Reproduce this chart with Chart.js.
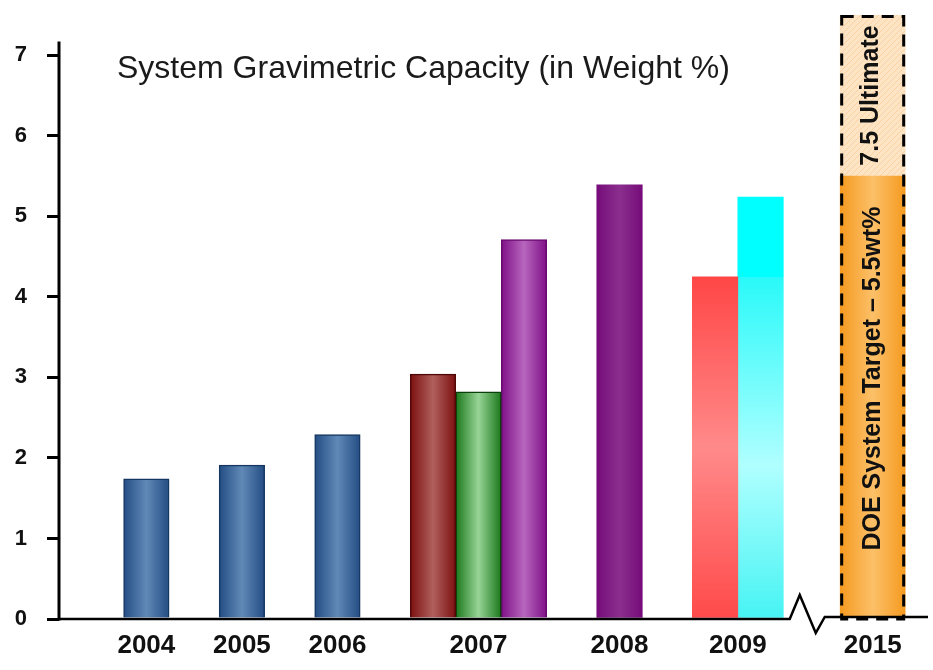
<!DOCTYPE html>
<html>
<head>
<meta charset="utf-8">
<title>System Gravimetric Capacity</title>
<script src="https://cdn.jsdelivr.net/npm/chart.js@4.4.1/dist/chart.umd.min.js"></script>
<style>
  html, body { margin: 0; padding: 0; background: #fff; }
  canvas { display: block; }
</style>
</head>
<body>
<canvas id="capacity-chart" width="933" height="670"></canvas>
<script>
// capacity per year in wt%, one array per bar colour (null = no bar that year)
const years       = ['2004', '2005', '2006', '2007', '2008', '2009', '2015'];
const blueBars    = [1.74, 1.91, 2.29, null, null, null, null];
const darkRedBars = [null, null, null, 3.04, null, null, null];
const greenBars   = [null, null, null, 2.82, null, null, null];
const purpleBars  = [null, null, null, 4.71, 5.39, null, null];
const redBars     = [null, null, null, null, null, 4.25, null];
const cyanBars    = [null, null, null, null, null, 5.24, null];
const doeTarget   = [null, null, null, null, null, null, 5.5];
const doeUltimate = [null, null, null, null, null, null, 7.5];
const yTicks = [0, 1, 2, 3, 4, 5, 6, 7];
const chartTitle = 'System Gravimetric Capacity (in Weight %)';

// layout: x axis runs in "bar slots", one slot = one bar width
const BAR_PX = 45.5;
const TARGET_PX = 65;
const X_MAX = 19.1;
const LEAD = 1.42;
const GAP = 1.1;
const BREAK_GAP = 1.25;   // wider gap where the axis is broken before the target year
const AXIS_TOP = 7.17;

const series = [blueBars, darkRedBars, greenBars, purpleBars, redBars, cyanBars, doeTarget];
const slotWidth = s => (s === doeTarget ? TARGET_PX / BAR_PX : 1);
const targetIdx = doeTarget.findIndex(v => v != null);

// place the bars of each year side by side, years separated by a gap
const barX = series.map(() => []);
const yearCenters = [];
let cursor = LEAD;
years.forEach((yr, i) => {
    const present = series.filter(s => s[i] != null);
    const span = present.reduce((sum, s) => sum + slotWidth(s), 0);
    yearCenters.push(cursor + span / 2);
    let left = cursor;
    present.forEach(s => {
        const w = slotWidth(s);
        barX[series.indexOf(s)][i] = left + w / 2;
        left += w;
    });
    cursor += span + (i + 1 === targetIdx ? BREAK_GAP : GAP);
});

function points(values) {
    const k = series.indexOf(values);
    return values
        .map((v, i) => (v == null ? null : { x: barX[k][i], y: v, year: i }))
        .filter(p => p);
}

// glassy look: darker edges, lighter middle
function sideShade(edge, mid) {
    return ctx => {
        const chart = ctx.chart;
        if (!chart.chartArea || !ctx.raw) return edge;
        const cx = chart.scales.x.getPixelForValue(ctx.raw.x);
        const w = ctx.dataset.barThickness;
        const g = chart.ctx.createLinearGradient(cx - w / 2, 0, cx + w / 2, 0);
        g.addColorStop(0, edge);
        g.addColorStop(0.5, mid);
        g.addColorStop(1, edge);
        return g;
    };
}

function redShade(ctx) {
    const chart = ctx.chart;
    if (!chart.chartArea || !ctx.raw) return '#ff5050';
    const y = chart.scales.y;
    const g = chart.ctx.createLinearGradient(0, y.getPixelForValue(ctx.raw.y), 0, y.getPixelForValue(0));
    g.addColorStop(0, '#ff4646');
    g.addColorStop(0.5, '#ff8a8a');
    g.addColorStop(1, '#ff4a4a');
    return g;
}

// solid cyan above the red bar's height, shaded below it
function cyanShade(ctx) {
    const chart = ctx.chart;
    if (!chart.chartArea || !ctx.raw) return '#00ffff';
    const y = chart.scales.y;
    const top = y.getPixelForValue(ctx.raw.y);
    const bottom = y.getPixelForValue(0);
    const split = (y.getPixelForValue(redBars[ctx.raw.year]) - top) / (bottom - top);
    const g = chart.ctx.createLinearGradient(0, top, 0, bottom);
    g.addColorStop(0, '#00ffff');
    g.addColorStop(split, '#00ffff');
    g.addColorStop(Math.min(1, split + 0.002), '#2af9f9');
    g.addColorStop(split + (1 - split) * 0.55, '#b0ffff');
    g.addColorStop(1, '#46f3f3');
    return g;
}

const purpleShades = {
    '2007': ['#7f1087', '#b766be'],
    '2008': ['#760c7a', '#8a2f8e']
};
function purpleShade(ctx) {
    if (!ctx.raw) return '#7f1087';
    const [edge, mid] = purpleShades[years[ctx.raw.year]];
    return sideShade(edge, mid)(ctx);
}

function hatchPattern(mainCtx) {
    const c = document.createElement('canvas');
    c.width = 6;
    c.height = 6;
    const h = c.getContext('2d');
    h.fillStyle = '#fde4c5';
    h.fillRect(0, 0, 6, 6);
    h.strokeStyle = '#fbd3a3';
    h.lineWidth = 1;
    h.beginPath();
    h.moveTo(0, 6); h.lineTo(6, 0);
    h.moveTo(-1, 1); h.lineTo(1, -1);
    h.moveTo(5, 7); h.lineTo(7, 5);
    h.stroke();
    return mainCtx.createPattern(c, 'repeat');
}

const canvas = document.getElementById('capacity-chart');
const ctx2d = canvas.getContext('2d');

function barSet(values, background, border, borderWidth) {
    return {
        data: points(values),
        backgroundColor: background,
        borderColor: border,
        borderWidth: borderWidth,
        barThickness: BAR_PX,
        grouped: false
    };
}

const ultimateSet = {
    data: [{ x: barX[series.indexOf(doeTarget)][targetIdx], y: [doeTarget[targetIdx], doeUltimate[targetIdx]], year: targetIdx }],
    backgroundColor: hatchPattern(ctx2d),
    borderWidth: 0,
    barThickness: TARGET_PX,
    grouped: false
};

const datasets = [
    barSet(blueBars, sideShade('#234d84', '#6189b7'), '#163761', 1.5),
    barSet(darkRedBars, sideShade('#7c1010', '#b0605d'), '#4e0808', 1.5),
    barSet(greenBars, sideShade('#1b781b', '#97d497'), '#0b3f0b', 1.5),
    barSet(purpleBars, purpleShade, '#690a6f', ctx => (ctx.raw && years[ctx.raw.year] === '2008' ? 0 : 1.5)),
    barSet(redBars, redShade, '#ff4a4a', 0),
    barSet(cyanBars, cyanShade, '#00ffff', 0),
    Object.assign(barSet(doeTarget, sideShade('#f59a20', '#fcc068'), '#f59a20', 0), { barThickness: TARGET_PX }),
    ultimateSet
];

// axis lines, the axis break, the dashed 2015 box and the in-plot texts
const decorations = {
    id: 'decorations',
    afterDatasetsDraw(chart) {
        const { ctx, chartArea, scales: { x, y } } = chart;
        const base = y.getPixelForValue(0);
        ctx.save();
        ctx.strokeStyle = '#000';
        ctx.lineWidth = 3;

        ctx.beginPath();
        ctx.moveTo(chartArea.left, base + 1.5);
        ctx.lineTo(chartArea.left, y.getPixelForValue(AXIS_TOP));
        ctx.stroke();

        const brk = x.getPixelForValue(yearCenters[targetIdx] - TARGET_PX / BAR_PX / 2 - BREAK_GAP / 2);
        ctx.lineWidth = 2.5;
        ctx.lineJoin = 'miter';
        ctx.beginPath();
        ctx.moveTo(chartArea.left, base);
        ctx.lineTo(brk - 22, base);
        ctx.lineTo(brk - 12, base - 24);
        ctx.lineTo(brk + 4, base + 14);
        ctx.lineTo(brk + 13, base - 2);
        ctx.lineTo(chartArea.right, base - 2);
        ctx.stroke();

        // dashed outline round the DOE target + ultimate bar
        const ult = chart.getDatasetMeta(datasets.indexOf(ultimateSet)).data[0];
        const { x: bx, y: topY, width } = ult.getProps(['x', 'y', 'width'], true);
        const tgt = chart.getDatasetMeta(datasets.length - 2).data[0];
        const midY = tgt.getProps(['y'], true).y;
        ctx.setLineDash([12, 8]);
        ctx.lineWidth = 3;
        ctx.strokeRect(bx - width / 2 + 1.5, topY + 1.5, width - 3, base - topY - 1.5);
        ctx.setLineDash([]);

        ctx.fillStyle = '#111';
        ctx.font = 'bold 25px "Liberation Sans", Arial, sans-serif';
        ctx.textAlign = 'center';
        ctx.textBaseline = 'middle';
        const label = (text, cx, cy) => {
            ctx.save();
            ctx.translate(cx, cy);
            ctx.rotate(-Math.PI / 2);
            ctx.fillText(text, 0, 0);
            ctx.restore();
        };
        label(`DOE System Target \u2013 ${doeTarget[targetIdx]}wt%`, bx, (midY + base) / 2 - 19);
        label(`${doeUltimate[targetIdx]} Ultimate`, bx - 2, (topY + midY) / 2);

        ctx.fillStyle = '#1a1a1a';
        ctx.font = '32px "Liberation Sans", Arial, sans-serif';
        ctx.textAlign = 'left';
        ctx.textBaseline = 'alphabetic';
        ctx.fillText(chartTitle, chartArea.left + 58, 78);
        ctx.restore();
    }
};

new Chart(ctx2d, {
    type: 'bar',
    data: { datasets: datasets },
    options: {
        responsive: false,
        animation: false,
        layout: { padding: { top: 15, right: 5, left: 0, bottom: 0 } },
        plugins: {
            legend: { display: false },
            tooltip: { enabled: false }
        },
        scales: {
            x: {
                type: 'linear',
                min: 0,
                max: X_MAX,
                offset: false,
                afterBuildTicks: s => { s.ticks = yearCenters.map(v => ({ value: v })); },
                afterFit: s => { s.height = 51; s.paddingLeft = 0; s.paddingRight = 0; },
                grid: { display: false, drawTicks: false },
                border: { display: false },
                ticks: {
                    autoSkip: false,
                    maxRotation: 0,
                    padding: 11,
                    color: '#111',
                    font: { family: '"Liberation Sans", Arial, sans-serif', size: 26, weight: 'bold' },
                    callback: (v, i) => years[i]
                }
            },
            y: {
                min: 0,
                max: 7.5,
                afterBuildTicks: s => { s.ticks = yTicks.map(v => ({ value: v })); },
                afterFit: s => { s.width = 59; s.paddingTop = 0; s.paddingBottom = 0; },
                grid: { drawOnChartArea: false, tickLength: 12, color: '#000', lineWidth: 3 },
                border: { display: false },
                ticks: {
                    padding: 20,
                    color: '#111',
                    font: { family: '"Liberation Sans", Arial, sans-serif', size: 22, weight: 'bold' }
                }
            }
        }
    },
    plugins: [decorations]
});
</script>
</body>
</html>
